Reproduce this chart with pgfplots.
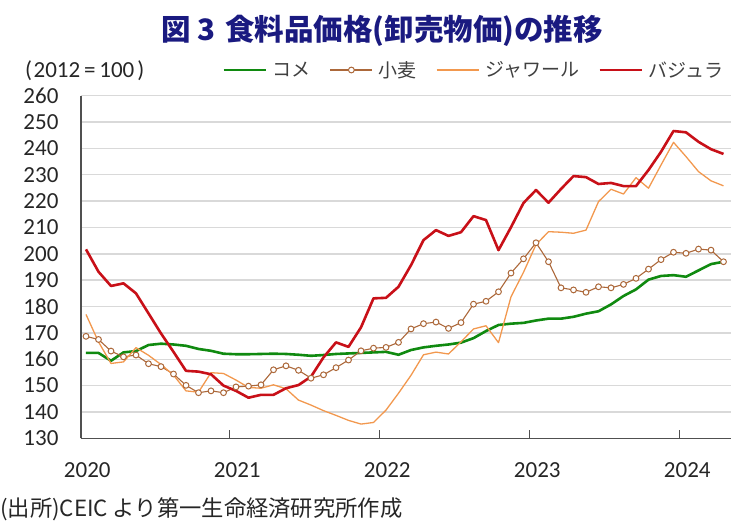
\documentclass[border=0pt]{standalone}
\usepackage{fontspec}
\setmainfont{Carlito}
\newfontfamily\jp{Noto Sans CJK JP}
\usepackage{pgfplots}
\usepackage{pgfplotstable}
\pgfplotsset{compat=1.18}
\definecolor{komec}{RGB}{16,138,16}
\definecolor{wheatc}{RGB}{172,104,58}
\definecolor{jowarc}{RGB}{242,152,78}
\definecolor{bajrac}{RGB}{200,16,24}
\definecolor{navyc}{RGB}{26,26,128}
\definecolor{gridc}{RGB}{217,217,217}
\definecolor{axisc}{RGB}{80,80,80}
\definecolor{txtc}{RGB}{38,38,38}
\definecolor{legc}{RGB}{64,64,64}

\pgfplotstableread{
i kome wheat jowar bajra
0 162.4 168.7 177.0 201.7
1 162.4 167.5 166.6 193.2
2 159.4 163.1 158.4 187.8
3 162.6 160.9 159.0 188.8
4 163.1 161.6 164.4 185.0
5 165.4 158.3 161.5 177.4
6 165.9 157.2 158.0 169.8
7 165.6 154.4 154.0 162.8
8 165.1 150.1 148.0 155.6
9 163.9 147.3 147.5 155.3
10 163.2 148.0 154.9 154.3
11 162.1 147.3 154.6 150.0
12 161.9 149.5 152.1 148.0
13 161.9 149.8 149.3 145.4
14 162.0 150.3 149.0 146.5
15 162.1 156.0 150.3 146.5
16 162.0 157.5 148.8 149.0
17 161.7 155.8 144.5 150.2
18 161.3 152.8 142.6 153.4
19 161.6 154.1 140.5 160.7
20 162.0 156.8 138.7 166.4
21 162.2 159.7 136.8 164.7
22 162.4 163.2 135.4 172.1
23 162.6 164.2 136.0 183.1
24 162.8 164.5 140.7 183.3
25 161.7 166.4 147.1 187.5
26 163.5 171.5 153.9 195.7
27 164.5 173.5 161.7 205.2
28 165.1 174.1 162.7 209.0
29 165.6 171.7 162.0 206.8
30 166.3 173.9 166.6 208.2
31 168.0 180.9 171.5 214.3
32 170.7 182.0 172.7 212.8
33 173.0 185.6 166.3 201.4
34 173.5 192.7 183.7 210.1
35 173.8 198.1 193.0 219.3
36 174.7 204.2 203.5 224.2
37 175.4 197.0 208.4 219.4
38 175.4 187.1 208.2 224.6
39 176.1 186.3 207.8 229.5
40 177.3 185.4 209.0 229.1
41 178.2 187.5 219.8 226.5
42 180.8 187.1 224.5 226.9
43 184.0 188.4 222.7 225.7
44 186.5 190.7 228.9 225.7
45 190.2 194.2 224.9 231.8
46 191.6 197.8 233.7 238.7
47 191.9 200.6 242.3 246.6
48 191.3 200.2 236.9 246.1
49 193.7 201.8 231.2 242.5
50 196.1 201.4 227.7 239.7
51 197.0 197.0 225.8 237.9
}\data

\begin{document}
\begin{tikzpicture}
\begin{axis}[
  scale only axis, width=650pt, height=342.6pt,
  xmin=-0.4, xmax=51.6, ymin=130, ymax=260,
  axis x line*=bottom, axis y line*=left,
  x axis line style={-, draw=axisc, line width=0.9pt},
  y axis line style={-, draw=axisc, line width=1.2pt},
  ytick={130,140,...,260},
  ymajorgrids, grid style={draw=gridc, line width=1.4pt},
  ytick style={draw=none},
  xtick={11.5,23.5,35.5,47.5}, xticklabels={},
  tick align=inside, major tick length=8pt,
  xtick style={draw=axisc, line width=0.9pt},
  extra x ticks={0.1,12.1,24.1,36.1,48.1},
  extra x tick labels={2020,2021,2022,2023,2024},
  extra x tick style={major tick length=0pt, tick style={draw=none}},
  ticklabel style={font=\fontsize{23}{23}\selectfont, text=txtc},
  xticklabel style={yshift=-21pt},
  yticklabel style={xshift=-19pt},
  /pgf/number format/assume math mode=true,
  legend style={at={(0.217,1.075)}, anchor=west, draw=none, fill=none, inner sep=0pt,
    font=\jp\fontsize{19}{19}\selectfont, text=legc,
    nodes={inner sep=1pt},
    /tikz/every odd column/.append style={column sep=5pt},
    /tikz/every even column/.append style={column sep=18pt}},
  legend columns=4, legend cell align=left,
  legend image code/.code={\draw[mark repeat=2,mark phase=2] plot coordinates {(0pt,0pt) (21pt,0pt) (42pt,0pt)};},
]
\addplot[komec, line width=2.6pt, line join=round] table[x=i,y=kome]{\data};
\addlegendentry{コメ}
\addplot[wheatc, line width=1.1pt, mark=*, mark size=2.9pt, mark options={fill=white, draw=wheatc, line width=1pt}] table[x=i,y=wheat]{\data};
\addlegendentry{小麦}
\addplot[jowarc, line width=1.3pt, line join=round] table[x=i,y=jowar]{\data};
\addlegendentry{ジャワール}
\addplot[bajrac, line width=2.6pt, line join=round] table[x=i,y=bajra]{\data};
\addlegendentry{バジュラ}
\coordinate (O) at (rel axis cs:0,0);
\end{axis}
\pgfresetboundingbox
\begin{scope}[shift={(O)}, x=1pt, y=1pt]
\useasboundingbox (-81,-84.7) rectangle (658,438.3);
\node[font=\jp\bfseries\fontsize{29.5}{29.5}\selectfont, text=navyc] at (301,407.3) {図 3\hspace{10pt}食料品価格(卸売物価)の推移};
\node[anchor=west, font=\fontsize{23}{23}\selectfont, text=txtc, inner sep=0pt] at (-56,367.3) {(\kern1.5pt2012\,=\,100\kern3pt)};
\node[anchor=west, font=\jp\fontsize{22.3}{22.3}\selectfont, text=txtc, inner sep=0pt] at (-81,-71.2) {(出所)CEIC より第一生命経済研究所作成};
\end{scope}
\end{tikzpicture}
\end{document}
